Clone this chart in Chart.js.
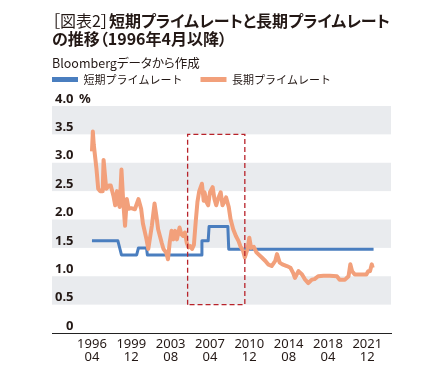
<!DOCTYPE html>
<html><head><meta charset="utf-8">
<script src="https://cdn.jsdelivr.net/npm/chart.js@4"></script>
<style>
html,body{margin:0;padding:0;background:#fff;}
#wrap{position:relative;width:444px;height:377px;overflow:hidden;}
#c{position:absolute;left:0;top:0;}
.t{position:absolute;left:52px;color:#231815;font-family:"Noto Sans CJK JP";font-feature-settings:"palt";white-space:nowrap;}
#title{top:11px;font-size:16px;line-height:18px;font-weight:bold;}
#title .n{font-weight:normal;}
#sub{top:55px;font-size:12.5px;line-height:16px;}
</style></head>
<body><div id="wrap">
<canvas id="c" width="444" height="377"></canvas>
<div class="t" id="title"><span class="n">［図表2］</span>短期プライムレートと長期プライムレート<br>の推移（1996年4月以降）</div>
<div class="t" id="sub">Bloombergデータから作成</div>
</div>
<script>
// month index: 0 = 1996-04
const seriesNames = ['短期プライムレート', '長期プライムレート'];
const shortMonths = [0, 29, 31, 33, 50, 52, 61, 62, 122, 123, 130, 131, 152, 153, 315];
const shortValues = [1.625, 1.625, 1.5, 1.375, 1.375, 1.5, 1.5, 1.375, 1.375, 1.625, 1.625, 1.875, 1.875, 1.475, 1.475];
const longMonths = [0,1,2,5,7,9,12,13,15,16,19,21,24,26,28,29,31,33,35,37,39,41,44,48,52,55,57,61,63,67,70,72,74,76,78,80,83,85,87,89,91,93,95,98,100,102,104,106,108,110,112,114,116,118,120,123,125,126,128,130,132,135,137,139,141,144,146,148,150,153,155,158,161,164,166,169,171,174,176,178,181,184,186,190,194,197,201,205,207,210,213,218,222,225,227,231,235,238,242,246,249,253,259,266,274,277,283,287,289,291,294,300,307,309,311,313,314];
const longValues = [3.20,3.55,3.32,2.90,2.54,2.50,2.50,3.05,2.70,2.54,2.60,2.60,2.42,2.25,2.50,2.33,2.22,2.88,2.31,1.89,2.36,2.19,2.20,2.18,2.36,2.19,1.93,1.65,1.48,1.89,2.28,2.07,1.83,1.71,1.59,1.48,1.42,1.30,1.60,1.80,1.65,1.80,1.65,1.86,1.74,1.71,1.77,1.59,1.51,1.53,1.48,1.55,1.95,2.31,2.50,2.63,2.33,2.48,2.31,2.25,2.48,2.57,2.36,2.25,2.36,2.48,2.25,2.31,2.39,2.22,2.01,1.83,1.71,1.62,1.53,1.45,1.33,1.48,1.68,1.50,1.52,1.42,1.39,1.33,1.27,1.21,1.18,1.27,1.39,1.24,1.21,1.18,1.15,1.06,0.97,1.09,1.03,0.95,0.88,0.94,0.95,1.00,1.01,1.01,1.00,0.94,0.94,1.00,1.21,1.09,1.03,1.03,1.03,1.09,1.09,1.21,1.15];
const rectMonths = [107, 107, 171, 171, 107];
const rectValues = [0.5, 3.5, 3.5, 0.5, 0.5];
const xTickMonths = [0, 44, 88, 132, 176, 220, 264, 308];
const xTickLabels = [['1996','04'],['1999','12'],['2003','08'],['2007','04'],['2010','12'],['2014','08'],['2018','04'],['2021','12']];
const yTicks = [0, 0.5, 1.0, 1.5, 2.0, 2.5, 3.0, 3.5, 4.0];
const yTickLabels = ['0','0.5','1.0','1.5','2.0','2.5','3.0','3.5','4.0'];
const yUnit = '%';

const BLUE = '#4A7EBF', ORANGE = '#F2A07B', BAND = '#E9EBEE', INK = '#231815';

const pts = (xs, ys) => xs.map((x, i) => ({x: x, y: ys[i]}));

const bandPlugin = {
  id: 'bands',
  beforeLayout(chart) {
    const lg = chart.legend;
    if (lg && !lg._patched) {
      const f = lg.fit;
      lg.fit = function () { f.call(this); this.height += 11; };
      lg._patched = true;
    }
  },
  beforeDraw(chart) {
    const {ctx, chartArea, scales} = chart;
    const y = scales.y;
    ctx.save();
    ctx.fillStyle = BAND;
    for (let i = 1; i < yTicks.length - 1; i += 2) {
      const top = y.getPixelForValue(yTicks[i + 1]);
      const bot = y.getPixelForValue(yTicks[i]);
      ctx.fillRect(chartArea.left, top, chartArea.right - chartArea.left, bot - top);
    }
    ctx.restore();
  },
  afterDraw(chart) {
    const y = chart.scales.y;
    const ctx = chart.ctx;
    const top = yTicks[yTicks.length - 1];
    ctx.save();
    ctx.font = 'bold 13px "Noto Sans"';
    ctx.fillStyle = INK;
    ctx.textAlign = 'left';
    ctx.textBaseline = 'middle';
    ctx.fillText(yUnit, chart.chartArea.left + 27, y.getPixelForValue(top) - 7);
    ctx.restore();
  }
};

new Chart(document.getElementById('c'), {
  type: 'line',
  data: {
    datasets: [
      {label: seriesNames[0], data: pts(shortMonths, shortValues), borderColor: BLUE, backgroundColor: BLUE, borderWidth: 3, pointRadius: 0, order: 2, borderJoinStyle: 'round'},
      {label: seriesNames[1], data: pts(longMonths, longValues), borderColor: ORANGE, backgroundColor: ORANGE, borderWidth: 4, pointRadius: 0, order: 1, borderJoinStyle: 'round'},
      {label: 'rect', data: pts(rectMonths, rectValues), borderColor: '#B8232A', borderWidth: 1.3, borderDash: [5, 3], pointRadius: 0, order: 0, fill: false}
    ]
  },
  options: {
    responsive: false,
    animation: false,
    events: [],
    layout: {padding: {left: 34, right: 53, top: 56, bottom: 0}},
    plugins: {
      title: {display: false},
      tooltip: {enabled: false},
      legend: {
        display: true,
        position: 'top',
        align: 'start',
        labels: {
          boxWidth: 26,
          boxHeight: 5,
          padding: 18,
          color: INK,
          font: {family: '"Noto Sans CJK JP"', size: 11},
          generateLabels(chart) {
            return chart.data.datasets.slice(0, 2).map((d, i) => ({
              text: d.label, fillStyle: d.borderColor, strokeStyle: d.borderColor,
              lineWidth: 0, hidden: false, datasetIndex: i, fontColor: INK
            }));
          }
        }
      }
    },
    scales: {
      x: {
        type: 'linear',
        min: -44.7,
        max: 334.5,
        grid: {display: false},
        border: {display: true, color: '#222', width: 1},
        afterBuildTicks(scale) { scale.ticks = xTickMonths.map(v => ({value: v})); },
        afterFit(scale) { scale.height = 44; },
        ticks: {
          padding: -3.5,
          maxRotation: 0,
          autoSkip: false,
          color: INK,
          font: {family: '"Noto Sans"', size: 13, lineHeight: 1.0},
          callback(v) { const i = xTickMonths.indexOf(v); return i >= 0 ? xTickLabels[i] : ''; }
        }
      },
      y: {
        min: 0,
        max: 4,
        grid: {display: false, drawTicks: false},
        border: {display: false},
        afterBuildTicks(scale) { scale.ticks = yTicks.map(v => ({value: v})); },
        afterFit(scale) { scale.width = 18; },
        ticks: {
          mirror: true,
          crossAlign: 'far',
          padding: 3,
          labelOffset: -7,
          color: INK,
          font: {family: '"Noto Sans"', size: 13, weight: 'bold'},
          callback(v) { const i = yTicks.indexOf(v); return i >= 0 ? yTickLabels[i] : ''; }
        }
      }
    }
  },
  plugins: [bandPlugin]
});
</script>
</body></html>
